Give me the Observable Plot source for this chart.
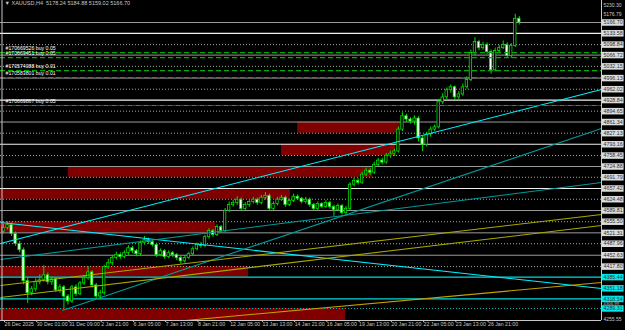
<!DOCTYPE html>
<html><head><meta charset="utf-8">
<script src="https://cdn.jsdelivr.net/npm/d3@7"></script>
<script src="https://cdn.jsdelivr.net/npm/@observablehq/plot@0.6"></script>
<style>html,body{margin:0;padding:0;background:#000;} svg{display:block}</style>
</head><body><div id="chart"></div>
<script>
// ---- data ----
const headerText = "\u25BC XAUUSD,H4  5178.24 5184.88 5159.02 5166.70";
const tickIdx = [0,8,16,24,32,40,48,56,64,72,80,88,96,104,112,120];
const tickLabels = ["26 Dec 2025","30 Dec 01:00","31 Dec 09:00","2 Jan 21:00","6 Jan 05:00","7 Jan 13:00","8 Jan 21:00","12 Jan 05:00","13 Jan 13:00","14 Jan 21:00","16 Jan 05:00","19 Jan 13:00","20 Jan 21:00","22 Jan 05:00","23 Jan 13:00","26 Jan 21:00"];

const opens = [4525,4536,4545,4518,4487,4468,4373,4336,4348,4370,
 4376,4391,4370,4379,4345,4354,4326,4311,4354,4333,
 4366,4382,4400,4360,4326,4336,4416,4428,4444,4453,
 4447,4459,4474,4465,4456,4490,4499,4493,4484,4453,
 4465,4447,4459,4453,4444,4434,4444,4456,4471,4484,
 4481,4508,4527,4515,4539,4527,4589,4607,4613,4623,
 4595,4607,4616,4623,4613,4629,4635,4595,4610,4623,
 4629,4607,4619,4632,4626,4616,4623,4607,4595,4610,
 4601,4613,4601,4592,4604,4582,4595,4669,4681,4675,
 4700,4712,4706,4730,4743,4737,4758,4764,4771,4838,
 4879,4869,4863,4872,4811,4792,4823,4838,4845,4922,
 4937,4959,4968,4937,4946,4968,4990,5073,5107,5088,
 5098,5076,5020,5079,5088,5098,5064,5095,5178.24];
const highs = [4548,4555,4552,4524,4495,4475,4385,4356,4380,4392,
 4420,4398,4386,4384,4362,4360,4332,4360,4362,4372,
 4390,4418,4405,4366,4345,4422,4440,4452,4462,4460,
 4466,4482,4480,4470,4496,4510,4505,4498,4490,4472,
 4470,4466,4464,4458,4450,4452,4462,4478,4490,4492,
 4514,4534,4532,4546,4544,4596,4616,4622,4632,4628,
 4614,4624,4630,4628,4636,4645,4640,4616,4630,4636,
 4634,4625,4640,4638,4630,4630,4628,4612,4616,4614,
 4620,4618,4606,4610,4608,4602,4675,4690,4688,4708,
 4720,4718,4738,4750,4750,4765,4772,4778,4846,4890,
 4885,4875,4880,4878,4820,4830,4846,4852,4930,4948,
 4966,4975,4972,4955,4978,5000,5082,5120,5112,5106,
 5104,5082,5088,5096,5110,5104,5102,5192,5184.88];
const lows = [4518,4530,4510,4480,4460,4362,4305,4328,4340,4362,
 4370,4362,4360,4338,4336,4288,4300,4305,4325,4328,
 4360,4376,4352,4318,4315,4330,4410,4420,4438,4440,
 4442,4452,4458,4448,4450,4484,4486,4478,4446,4448,
 4440,4442,4446,4436,4426,4428,4440,4450,4466,4474,
 4476,4502,4508,4510,4520,4522,4584,4600,4606,4588,
 4590,4600,4610,4606,4608,4622,4588,4590,4604,4618,
 4600,4602,4614,4620,4610,4610,4600,4588,4590,4595,
 4596,4594,4572,4586,4576,4575,4590,4662,4668,4670,
 4694,4698,4700,4724,4730,4732,4750,4756,4766,4832,
 4860,4855,4852,4800,4770,4785,4815,4832,4840,4915,
 4930,4950,4930,4930,4940,4962,4985,5065,5080,5082,
 5068,5008,5015,5072,5084,5058,5056,5090,5159.02];
const closes = [4536,4545,4518,4487,4468,4373,4336,4348,4370,4376,
 4391,4370,4379,4345,4354,4326,4311,4354,4333,4366,
 4382,4400,4360,4326,4336,4416,4428,4444,4453,4447,
 4459,4474,4465,4456,4490,4499,4493,4484,4453,4465,
 4447,4459,4453,4444,4434,4444,4456,4471,4484,4481,
 4508,4527,4515,4539,4527,4589,4607,4613,4623,4595,
 4607,4616,4623,4613,4629,4635,4595,4610,4623,4629,
 4607,4619,4632,4626,4616,4623,4607,4595,4610,4601,
 4613,4601,4592,4604,4582,4595,4669,4681,4675,4700,
 4712,4706,4730,4743,4737,4758,4764,4771,4838,4879,
 4869,4863,4872,4811,4792,4823,4838,4845,4922,4937,
 4959,4968,4937,4946,4968,4990,5073,5107,5088,5098,
 5076,5020,5079,5088,5098,5064,5095,5178,5166.70];

const X0 = -0.744, X1 = 148.4;          // visible bar-index range
const Y0 = 4252.4, Y1 = 5234.2;         // visible price range

// demand/supply zones (bar index start/end, price high/low)
const zoneStart = [73, 69, 16.1, X0, X0, X0, X0];
const zoneEnd   = [98.5, 97.3, 91.6, 71.2, 52.6, 60.8, 84.9];
const zoneHigh  = [4861.34, 4793.16, 4724.88, 4657.42, 4555.50, 4417.80, 4289.31];
const zoneLow   = [4827.13, 4758.45, 4691.79, 4624.48, 4521.31, 4385.44, Y0];

const grayLines   = [5166.70, 5066.72, 4996.13, 4861.34, 4724.88, 4589.81, 4521.31, 4452.63];
const whiteLines  = [5133.58, 4928.84, 4793.16, 4657.42];
const dottedLines = [5098.84, 5032.15, 4962.02, 4894.65, 4827.13, 4758.45, 4691.79, 4624.48, 4555.50, 4487.96, 4417.80];
const cyanLines   = [4385.44, 4318.54];
const cyanDotted  = [4289.31];

// trend lines
const trendX1 = [X0, X0, 14.6, X0, X0, X0, 45.2];
const trendY1 = [4488.7, 4553.1, 4283.0, 4439.6, 4359.8, 4323.0, 4252.5];
const trendX2 = [X1, X1, X1, X1, X1, X1, X1];
const trendY2 = [4961.1, 4350.6, 4841.5, 4675.8, 4577.6, 4543.9, 4369.0];
const trendColor = ["#00f0ff","#00f0ff","#009a9a","#009a9a","#a8a800","#a8a800","#c8a000"];

// open orders
const orderPrices = [5074.5, 5059, 5019, 4998, 4912];
const orderLabels = ["#170669526 buy 0.05","#170669451 buy 0.05","#170574088 buy 0.01","#170583801 buy 0.01","#170669867 buy 0.05"];

// right price scale labels
const plainLabels = [5230.30, 5176.79, 4306.99, 4255.55];
const boxedLabels = [5166.70, 5133.58, 5098.84, 5066.72, 5032.15, 4996.13, 4962.02, 4928.84, 4894.65, 4861.34, 4827.13, 4793.16, 4758.45, 4724.88, 4691.79, 4657.42, 4624.48, 4589.81, 4555.50, 4521.31, 4487.96, 4452.63, 4417.80];
const cyanLabels  = [4385.44, 4351.18, 4318.54, 4289.31];

// ---- build ----
const bars = closes.map((c, i) => ({i, o: opens[i], h: highs[i], l: lows[i], c}));
const zones = zoneStart.map((s, k) => ({s, e: zoneEnd[k], hi: zoneHigh[k], lo: zoneLow[k]}));
const trends = trendX1.map((x, k) => ({x1: x, y1: trendY1[k], x2: trendX2[k], y2: trendY2[k], c: trendColor[k]}));
const orders = orderPrices.map((p, k) => ({p, t: orderLabels[k]}));
const fmt = d => d.toFixed(2);
const lblFont = 5.3;
const plainText = (arr, dy, fs) => Plot.text(arr, {x: () => X1, y: d => d, text: fmt, textAnchor: "start", dx: 2, dy, fontSize: fs, fill: "#c8c8c8"});

const chart = Plot.plot({
  width: 625, height: 330,
  marginLeft: 0, marginRight: 24, marginTop: 0, marginBottom: 10,
  style: {background: "#000", color: "#c8c8c8", fontFamily: "'Liberation Sans', Arial, sans-serif", fontSize: "5.5px", overflow: "visible"},
  x: {domain: [X0, X1]},
  y: {domain: [Y0, Y1], axis: null},
  marks: [
    Plot.rect(zones, {x1: "s", x2: "e", y1: "lo", y2: "hi", fill: "#800000"}),
    Plot.ruleY(dottedLines, {stroke: "#a8a8a8", strokeDasharray: "1,2", strokeWidth: 1}),
    Plot.ruleY(grayLines, {stroke: "#9a9a9a", strokeWidth: 1}),
    Plot.ruleY(whiteLines, {stroke: "#f0f0f0", strokeWidth: 1.2}),
    Plot.ruleY(cyanLines, {stroke: "#00d8d8", strokeWidth: 1.2}),
    Plot.ruleY(cyanDotted, {stroke: "#00b8b8", strokeDasharray: "1,2", strokeWidth: 1}),
    Plot.ruleX(bars, {x: "i", y1: "l", y2: "h", stroke: "#00e000", strokeWidth: 1}),
    Plot.rect(bars, {x1: d => d.i - 0.3, x2: d => d.i + 0.3, y1: "o", y2: "c",
      fill: d => d.c >= d.o ? "#000000" : "#ffffff", stroke: "#00e000", strokeWidth: 0.8}),
    Plot.link(trends, {x1: "x1", y1: "y1", x2: "x2", y2: "y2", stroke: "c", strokeWidth: 1.1}),
    Plot.ruleY(orderPrices, {stroke: "#00b000", strokeDasharray: "5,3", strokeWidth: 1.2}),
    Plot.ruleY(orderPrices.slice(-1), {stroke: "#d00000", strokeDasharray: "4,4", strokeDashoffset: 4, strokeWidth: 1.2}),
    Plot.text(orders, {x: () => X0, y: "p", text: "t", textAnchor: "start", dx: 5, dy: -4, fontSize: 5.2, fill: "#ffffff"}),
    Plot.text([headerText], {frameAnchor: "top-left", text: d => d, textAnchor: "start", lineAnchor: "top", dx: 4, dy: 1, fontSize: 5.5, fill: "#c8c8c8"}),
    // frame lines
    Plot.ruleX([X0], {stroke: "#c8c8c8", dx: 1.5}),
    Plot.ruleX([X1], {stroke: "#c8c8c8"}),
    Plot.ruleY([Y0], {stroke: "#c8c8c8"}),
    // right scale labels
    plainText(plainLabels.slice(0, 1), 3.5, 5),
    plainText(plainLabels.slice(1, 2), -4.5, 5),
    plainText(plainLabels.slice(2, 3), 1, 4.3),
    plainText(plainLabels.slice(3, 4), 0, 5),
    Plot.ruleY(boxedLabels, {x1: () => X1 + 0.15, x2: () => X1 + 5.6, stroke: "#dcdcdc", strokeWidth: 6.5}),
    Plot.ruleY(cyanLabels, {x1: () => X1 + 0.15, x2: () => X1 + 5.6, stroke: "#00e8e8", strokeWidth: 6.5}),
    Plot.text(boxedLabels, {x: () => X1, y: d => d, text: fmt, textAnchor: "start", dx: 2, fontSize: lblFont, fill: "#303030"}),
    Plot.text(cyanLabels, {x: () => X1, y: d => d, text: fmt, textAnchor: "start", dx: 2, fontSize: lblFont, fill: "#303030"}),
    Plot.axisX(tickIdx, {anchor: "bottom", tickSize: 2, tickPadding: 0, textAnchor: "start", dx: 1,
      fontSize: 5.2, tickFormat: d => tickLabels[tickIdx.indexOf(d)], label: null, stroke: "#c8c8c8", fill: "#c8c8c8"})
  ]
});
document.getElementById("chart").append(chart);
</script></body></html>
